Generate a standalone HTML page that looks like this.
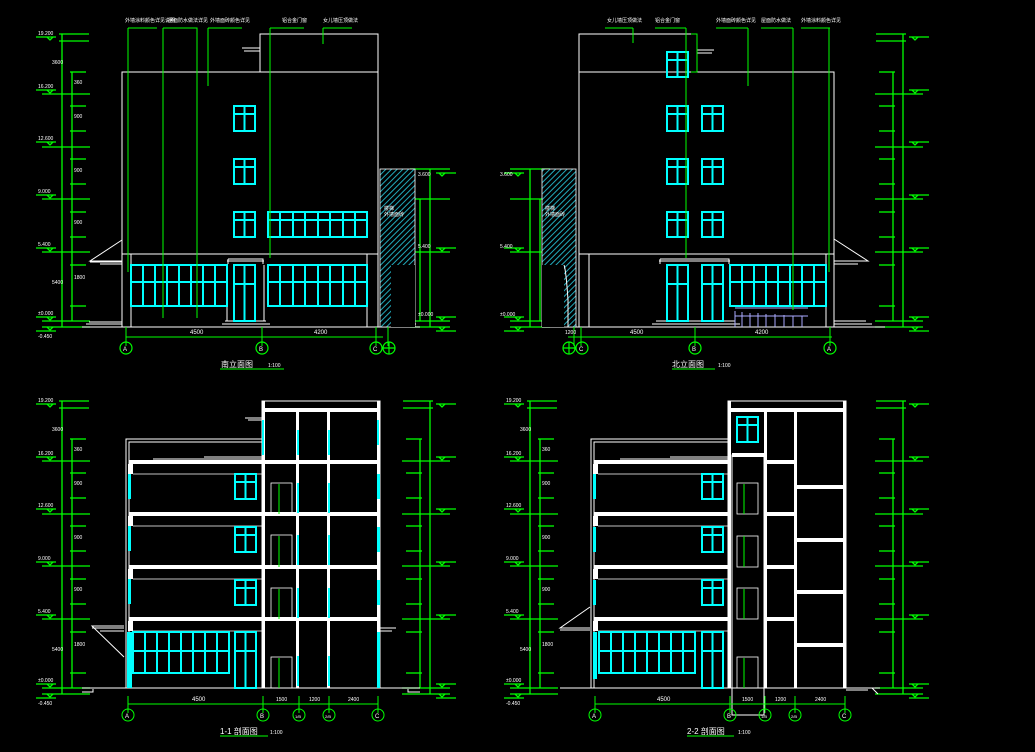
<!DOCTYPE html>
<html><head><meta charset="utf-8"><style>
html,body{margin:0;padding:0;background:#000;}
svg{display:block}
text{font-family:"Liberation Sans","Noto Sans CJK SC",sans-serif;fill:#fff;}
</style></head><body>
<svg width="1035" height="752" viewBox="0 0 1035 752" xmlns="http://www.w3.org/2000/svg">
<defs>
<pattern id="hat" width="4" height="4" patternUnits="userSpaceOnUse" patternTransform="rotate(45)">
<rect width="4" height="4" fill="#000"/><line x1="0" y1="0" x2="0" y2="4" stroke="#2ab" stroke-width="2"/></pattern>
<g id="w" fill="none" stroke="#0ff" stroke-width="2"><rect x="0" y="0" width="21" height="25"/><line x1="10.5" y1="0" x2="10.5" y2="25"/><line x1="0" y1="8" x2="21" y2="8"/></g>
<g id="dim" stroke="#0f0" stroke-width="1.3" fill="none">
<line x1="0" y1="0" x2="0" y2="293"/><line x1="10" y1="38" x2="10" y2="287"/>
<line x1="-3" y1="0" x2="27" y2="0"/><line x1="-3" y1="7" x2="27" y2="7"/>
<line x1="-20" y1="60" x2="28" y2="60"/><line x1="-20" y1="113" x2="28" y2="113"/><line x1="-20" y1="165" x2="28" y2="165"/><line x1="-20" y1="218" x2="28" y2="218"/><line x1="-20" y1="287" x2="28" y2="287"/><line x1="-20" y1="293" x2="28" y2="293"/>
<line x1="8" y1="38" x2="24" y2="38"/><line x1="8" y1="72" x2="24" y2="72"/><line x1="8" y1="97" x2="24" y2="97"/><line x1="8" y1="125" x2="24" y2="125"/><line x1="8" y1="150" x2="24" y2="150"/><line x1="8" y1="178" x2="24" y2="178"/><line x1="8" y1="203" x2="24" y2="203"/><line x1="8" y1="231" x2="24" y2="231"/><line x1="8" y1="272" x2="24" y2="272"/>
<line x1="-26" y1="3" x2="-6" y2="3"/><line x1="-26" y1="56" x2="-6" y2="56"/><line x1="-26" y1="108" x2="-6" y2="108"/><line x1="-26" y1="161" x2="-6" y2="161"/><line x1="-26" y1="214" x2="-6" y2="214"/><line x1="-26" y1="283" x2="-6" y2="283"/><line x1="-26" y1="297" x2="-6" y2="297"/>
<path d="M-15 3 l3 3 l3 -3 M-15 56 l3 3 l3 -3 M-15 108 l3 3 l3 -3 M-15 161 l3 3 l3 -3 M-15 214 l3 3 l3 -3 M-15 283 l3 3 l3 -3 M-15 293 l3 3 l3 -3"/>
</g>
<g id="dims" stroke="#0f0" stroke-width="1.3" fill="none">
<line x1="0" y1="135" x2="0" y2="293"/><line x1="10" y1="165" x2="10" y2="287"/>
<line x1="-20" y1="135" x2="20" y2="135"/><line x1="-20" y1="165" x2="20" y2="165"/><line x1="-20" y1="218" x2="20" y2="218"/><line x1="-20" y1="287" x2="20" y2="287"/><line x1="-20" y1="293" x2="20" y2="293"/>
<line x1="-26" y1="139" x2="-6" y2="139"/><line x1="-26" y1="214" x2="-6" y2="214"/><line x1="-26" y1="283" x2="-6" y2="283"/><line x1="-26" y1="297" x2="-6" y2="297"/>
<path d="M-15 139 l3 3 l3 -3 M-15 214 l3 3 l3 -3 M-15 283 l3 3 l3 -3 M-15 293 l3 3 l3 -3"/>
</g>
<g id="dimt" font-size="5">
<text x="-24" y="1">19.200</text><text x="-24" y="54">16.200</text><text x="-24" y="106">12.600</text><text x="-24" y="159">9.000</text><text x="-24" y="212">5.400</text><text x="-24" y="281">±0.000</text><text x="-24" y="304">-0.450</text>
<text x="12" y="50">360</text><text x="12" y="84">900</text><text x="12" y="138">900</text><text x="12" y="190">900</text><text x="12" y="245">1800</text><text x="-10" y="30">3600</text><text x="-10" y="250">5400</text>
</g>
</defs>

<!-- dimension columns -->
<use href="#dim" x="62" y="34"/><use href="#dimt" x="62" y="34"/>
<use href="#dim" x="62" y="401"/><use href="#dimt" x="62" y="401"/>
<use href="#dim" x="530" y="401"/><use href="#dimt" x="530" y="401"/>
<g transform="translate(430,34) scale(-1,1)"><use href="#dims"/></g>
<g transform="translate(903,34) scale(-1,1)"><use href="#dim"/></g>
<g transform="translate(430,401) scale(-1,1)"><use href="#dim"/></g>
<g transform="translate(903,401) scale(-1,1)"><use href="#dim"/></g>
<use href="#dims" x="530" y="34"/>
<g font-size="5"><text x="418" y="176">3.600</text><text x="418" y="248">5.400</text><text x="418" y="316">±0.000</text><text x="500" y="176">3.600</text><text x="500" y="248">5.400</text><text x="500" y="316">±0.000</text></g>

<!-- ============ TOP LEFT ELEVATION ============ -->
<g fill="none" stroke="#fff" stroke-width="1">
<rect x="122" y="72" width="256" height="255"/>
<rect x="260" y="34" width="118" height="38"/>
<line x1="122" y1="254" x2="378" y2="254"/>
<line x1="131" y1="254" x2="131" y2="327"/><line x1="367" y1="254" x2="367" y2="327"/>
<path d="M227 261 H264 M228 259 H263 V264 M228 259 V264 M227 265 V321 M264 265 V321"/>
<path d="M122 240 L90 261 H122 M90 262 H122 M100 264 H122"/>
<path d="M242 48 H260 M244 51 H260"/>
<path d="M82 327 H420 M86 324 H122 M89 322 H122 M222 324 H270 M225 321 H266 M405 324 H416 M402 321 H412"/>
<path d="M412 265 Q396 270 396 296 V320"/>
</g>
<rect x="380" y="169" width="35" height="158" fill="url(#hat)" stroke="#fff" stroke-width="0.8"/>
<rect x="391" y="265" width="24" height="62" fill="#000"/>
<g>
<use href="#w" x="234" y="106"/><use href="#w" x="234" y="159"/><use href="#w" x="234" y="212"/>
<g fill="none" stroke="#0ff" stroke-width="2"><rect x="268" y="212" width="99" height="25"/><path d="M280 212V237M293 212V237M305 212V237M318 212V237M330 212V237M343 212V237M355 212V237M268 220H367"/>
<rect x="131" y="265" width="96" height="41"/><path d="M143 265V306M155 265V306M167 265V306M179 265V306M191 265V306M203 265V306M215 265V306M131 282H227"/>
<rect x="268" y="265" width="99" height="41"/><path d="M280 265V306M293 265V306M305 265V306M318 265V306M330 265V306M343 265V306M355 265V306M268 282H367"/>
<rect x="234" y="265" width="21" height="56"/><path d="M244.5 265V321M234 284H255"/></g>
</g>
<g stroke="#0f0" stroke-width="1" fill="none">
<path d="M128 28 V272 M128 28 H157 M163 28 H197 V318 M163 28 V318 M208 28 H242 M208 28 V86 M270 28 H304 M270 28 V258 M323 28 H352 M323 28 V44"/>
<path d="M126 337 H383 M126 327 V346 M262 327 V346 M376 327 V346 M388 327 V346"/>
<path d="M220 369 H284"/>
</g>
<g stroke="#0f0" stroke-width="1.2" fill="none"><circle cx="126" cy="348" r="6"/><circle cx="262" cy="348" r="6"/><circle cx="376" cy="348" r="6"/><circle cx="389" cy="348" r="6"/><path d="M383 348H395M389 342V354"/></g>
<g font-size="6" fill="#fff"><text x="123" y="351">A</text><text x="259" y="351">B</text><text x="373" y="351">C</text>
<text x="190" y="334">4500</text><text x="314" y="334">4200</text>
<text x="125" y="22" font-size="5">外墙涂料颜色详见说明</text><text x="168" y="22" font-size="5">屋面防水做法详见</text><text x="210" y="22" font-size="5">外墙面砖颜色详见</text><text x="282" y="22" font-size="5">铝合金门窗</text><text x="323" y="22" font-size="5">女儿墙压顶做法</text>
<text x="384" y="210" font-size="5">楼梯</text><text x="384" y="216" font-size="5">外墙面砖</text>
<text x="221" y="367" font-size="8">南立面图</text><text x="268" y="367" font-size="5">1:100</text></g>

<!-- ============ TOP RIGHT ELEVATION ============ -->
<g fill="none" stroke="#fff" stroke-width="1">
<rect x="579" y="72" width="255" height="255"/>
<rect x="579" y="34" width="118" height="38"/>
<line x1="579" y1="254" x2="834" y2="254"/>
<line x1="589" y1="254" x2="589" y2="327"/><line x1="826" y1="254" x2="826" y2="327"/>
<path d="M659 261 H730 M660 259 H729 V264 M660 259 V264"/>
<path d="M834 239 L868 261 H834 M834 264 H858"/>
<path d="M697 50 H714 M697 53 H712"/>
<path d="M542 327 H885 M834 324 H872 M834 321 H866 M652 324 H740 M656 321 H735"/>
<path d="M735 308 H808 M735 311 V327 M742 312 V327 M750 313 V327 M758 313 V327 M766 314 V327 M775 314 V327 M784 315 V327 M793 316 V327 M802 316 V327 M735 316 H808" stroke="#aaf"/>
</g>
<rect x="542" y="169" width="34" height="158" fill="url(#hat)" stroke="#fff" stroke-width="0.8"/>
<rect x="542" y="265" width="22" height="62" fill="#000"/>
<path d="M564 265 Q566 270 568 300 V327" fill="none" stroke="#fff"/>
<g>
<use href="#w" x="667" y="52"/>
<use href="#w" x="667" y="106"/><use href="#w" x="702" y="106"/>
<use href="#w" x="667" y="159"/><use href="#w" x="702" y="159"/>
<use href="#w" x="667" y="212"/><use href="#w" x="702" y="212"/>
<g fill="none" stroke="#0ff" stroke-width="2">
<rect x="667" y="265" width="21" height="56"/><path d="M677.5 265V321M667 284H688"/>
<rect x="702" y="265" width="21" height="56"/><path d="M712.5 265V321M702 284H723"/>
<rect x="730" y="265" width="96" height="41"/><path d="M742 265V306M754 265V306M766 265V306M778 265V306M790 265V306M802 265V306M814 265V306M730 282H826"/></g>
</g>
<g stroke="#0f0" stroke-width="1" fill="none">
<path d="M605 28 H633 M633 28 V43 M655 28 H686 M686 28 V258 M716 28 H748 M748 28 V86 M761 28 H793 M793 28 V310 M801 28 H830 M829 28 V272"/>
<path d="M691 34 H697 V72 H691"/>
<path d="M568 337 H832 M574 327 V346 M581 327 V346 M695 327 V346 M830 327 V346"/>
<path d="M672 369 H715"/>
</g>
<g stroke="#0f0" stroke-width="1.2" fill="none"><circle cx="569" cy="348" r="6"/><circle cx="582" cy="348" r="6"/><circle cx="695" cy="348" r="6"/><circle cx="830" cy="348" r="6"/><path d="M563 348H575M569 342V354"/></g>
<g font-size="6" fill="#fff"><text x="579" y="351">C</text><text x="692" y="351">B</text><text x="827" y="351">A</text>
<text x="630" y="334">4500</text><text x="755" y="334">4200</text><text x="565" y="334" font-size="5">1200</text>
<text x="607" y="22" font-size="5">女儿墙压顶做法</text><text x="655" y="22" font-size="5">铝合金门窗</text><text x="716" y="22" font-size="5">外墙面砖颜色详见</text><text x="761" y="22" font-size="5">屋面防水做法</text><text x="801" y="22" font-size="5">外墙涂料颜色详见</text>
<text x="545" y="210" font-size="5">楼梯</text><text x="545" y="216" font-size="5">外墙面砖</text>
<text x="672" y="367" font-size="8">北立面图</text><text x="718" y="367" font-size="5">1:100</text></g>

<!-- ============ BOTTOM LEFT SECTION 1-1 ============ -->
<g fill="none" stroke="#fff" stroke-width="1">
<path d="M126 688 V439 H262 M129 688 V442 H262 M82 688 H420 M82 692 H93 V689 M408 689 V692 H420"/>
<path d="M124 657 L92 626 H124 M92 628 H124 M100 631 H124 M380 628 H396 M380 631 H392"/>
<rect x="262" y="401" width="118" height="287"/>
<path d="M245 418 H262 M248 420 H262"/>
<path d="M153 459 H262 M204 457 H262"/>
</g>
<g fill="#fff">
<rect x="129" y="460" width="251" height="4"/><rect x="129" y="512" width="251" height="4"/><rect x="129" y="565" width="251" height="4"/><rect x="129" y="617" width="251" height="4"/>
<rect x="262" y="408" width="118" height="4"/>
<rect x="262" y="401" width="3" height="287"/><rect x="296" y="408" width="3" height="280"/><rect x="327" y="408" width="3" height="280"/><rect x="377" y="401" width="3" height="287"/>
<rect x="128" y="464" width="5" height="10"/><rect x="128" y="516" width="5" height="10"/><rect x="128" y="569" width="5" height="10"/><rect x="128" y="621" width="5" height="10"/>
</g>
<g fill="none" stroke="#fff" stroke-width="0.8">
<path d="M133 474 H262 M133 526 H262 M133 579 H262 M133 631 H262"/>
<rect x="271" y="483" width="21" height="31"/><rect x="271" y="535" width="21" height="32"/><rect x="271" y="588" width="21" height="31"/><rect x="271" y="657" width="21" height="31"/>
</g>
<g fill="#0ff"><rect x="127" y="632" width="5" height="56"/><rect x="128" y="474" width="3" height="25"/><rect x="128" y="526" width="3" height="25"/><rect x="128" y="579" width="3" height="25"/>
<rect x="377" y="474" width="3" height="25"/><rect x="377" y="527" width="3" height="25"/><rect x="377" y="580" width="3" height="25"/><rect x="377" y="632" width="3" height="56"/>
<rect x="262" y="420" width="2" height="35"/><rect x="297" y="430" width="2" height="25"/><rect x="328" y="430" width="2" height="25"/><rect x="377" y="420" width="2" height="25"/>
<rect x="297" y="483" width="2" height="30"/><rect x="297" y="535" width="2" height="30"/><rect x="297" y="588" width="2" height="30"/><rect x="297" y="656" width="2" height="30"/>
<rect x="328" y="483" width="2" height="30"/><rect x="328" y="535" width="2" height="30"/><rect x="328" y="588" width="2" height="30"/><rect x="328" y="656" width="2" height="30"/></g>
<use href="#w" x="235" y="474"/><use href="#w" x="235" y="527"/><use href="#w" x="235" y="580"/>
<g fill="none" stroke="#0ff" stroke-width="2"><rect x="133" y="632" width="96" height="41"/><path d="M145 632V673M157 632V673M169 632V673M181 632V673M193 632V673M205 632V673M217 632V673M133 651H229"/>
<rect x="235" y="632" width="21" height="56"/><path d="M245.5 632V688M235 651H256"/></g>
<g stroke="#0f0" stroke-width="1" fill="none"><path d="M279 484V514M279 536V567M279 589V619M279 658V688"/>
<path d="M128 704 H378 M128 696 V713 M263 696 V713 M299 696 V713 M329 696 V713 M378 696 V713 M220 736 H268"/>
<circle cx="128" cy="715" r="6"/><circle cx="263" cy="715" r="6"/><circle cx="299" cy="715" r="6"/><circle cx="329" cy="715" r="6"/><circle cx="378" cy="715" r="6"/></g>
<g font-size="6"><text x="125" y="718">A</text><text x="260" y="718">B</text><text x="375" y="718">C</text><text x="295" y="718" font-size="4">1/B</text><text x="325" y="718" font-size="4">2/B</text>
<text x="192" y="701">4500</text><text x="276" y="701" font-size="5">1500</text><text x="309" y="701" font-size="5">1200</text><text x="348" y="701" font-size="5">2400</text>
<text x="220" y="734" font-size="8">1-1 剖面图</text><text x="270" y="734" font-size="5">1:100</text></g>

<!-- ============ BOTTOM RIGHT SECTION 2-2 ============ -->
<g fill="none" stroke="#fff" stroke-width="1">
<path d="M591 688 V439 H728 M594 688 V442 H728 M560 688 H880 M846 688 H872 L878 694 M846 690 H868"/>
<path d="M590 607 L560 628 H590 M560 630 H590"/>
<rect x="728" y="401" width="118" height="287"/>
<rect x="732" y="455" width="32" height="260"/>
<path d="M620 459 H728 M670 457 H728"/>
</g>
<g fill="#fff">
<rect x="594" y="460" width="134" height="4"/><rect x="594" y="512" width="134" height="4"/><rect x="594" y="565" width="134" height="4"/><rect x="594" y="617" width="134" height="4"/>
<rect x="764" y="460" width="32" height="4"/><rect x="764" y="512" width="32" height="4"/><rect x="764" y="565" width="32" height="4"/><rect x="764" y="617" width="32" height="4"/>
<rect x="796" y="485" width="50" height="4"/><rect x="796" y="538" width="50" height="4"/><rect x="796" y="590" width="50" height="4"/><rect x="796" y="643" width="50" height="4"/>
<rect x="728" y="408" width="118" height="4"/><rect x="732" y="453" width="32" height="4"/>
<rect x="728" y="401" width="3" height="287"/><rect x="764" y="408" width="3" height="280"/><rect x="794" y="408" width="3" height="280"/><rect x="843" y="401" width="3" height="287"/>
<rect x="593" y="464" width="5" height="10"/><rect x="593" y="516" width="5" height="10"/><rect x="593" y="569" width="5" height="10"/><rect x="593" y="621" width="5" height="10"/>
</g>
<g fill="none" stroke="#fff" stroke-width="0.8">
<path d="M598 474 H728 M598 526 H728 M598 579 H728 M598 631 H728"/>
<rect x="737" y="483" width="21" height="31"/><rect x="737" y="536" width="21" height="31"/><rect x="737" y="588" width="21" height="31"/><rect x="737" y="657" width="21" height="31"/>
</g>
<g fill="#0ff"><rect x="593" y="632" width="4" height="47"/><rect x="593" y="474" width="3" height="25"/><rect x="593" y="527" width="3" height="25"/><rect x="593" y="580" width="3" height="25"/></g>
<use href="#w" x="737" y="417"/>
<use href="#w" x="702" y="474"/><use href="#w" x="702" y="527"/><use href="#w" x="702" y="580"/>
<g fill="none" stroke="#0ff" stroke-width="2"><rect x="599" y="632" width="96" height="41"/><path d="M611 632V673M623 632V673M635 632V673M647 632V673M659 632V673M671 632V673M683 632V673M599 651H695"/>
<rect x="702" y="632" width="21" height="56"/><path d="M712.5 632V688M702 651H723"/></g>
<g stroke="#0f0" stroke-width="1" fill="none"><path d="M744 484V514M744 536V567M744 589V619M744 658V688"/>
<path d="M595 704 H845 M595 696 V713 M730 696 V713 M765 696 V713 M795 696 V713 M845 696 V713 M687 736 H734"/>
<circle cx="595" cy="715" r="6"/><circle cx="730" cy="715" r="6"/><circle cx="765" cy="715" r="6"/><circle cx="795" cy="715" r="6"/><circle cx="845" cy="715" r="6"/></g>
<g font-size="6"><text x="592" y="718">A</text><text x="727" y="718">B</text><text x="842" y="718">C</text><text x="761" y="718" font-size="4">1/B</text><text x="791" y="718" font-size="4">2/B</text>
<text x="657" y="701">4500</text><text x="742" y="701" font-size="5">1500</text><text x="775" y="701" font-size="5">1200</text><text x="815" y="701" font-size="5">2400</text>
<text x="687" y="734" font-size="8">2-2 剖面图</text><text x="738" y="734" font-size="5">1:100</text></g>
</svg>
</body></html>
